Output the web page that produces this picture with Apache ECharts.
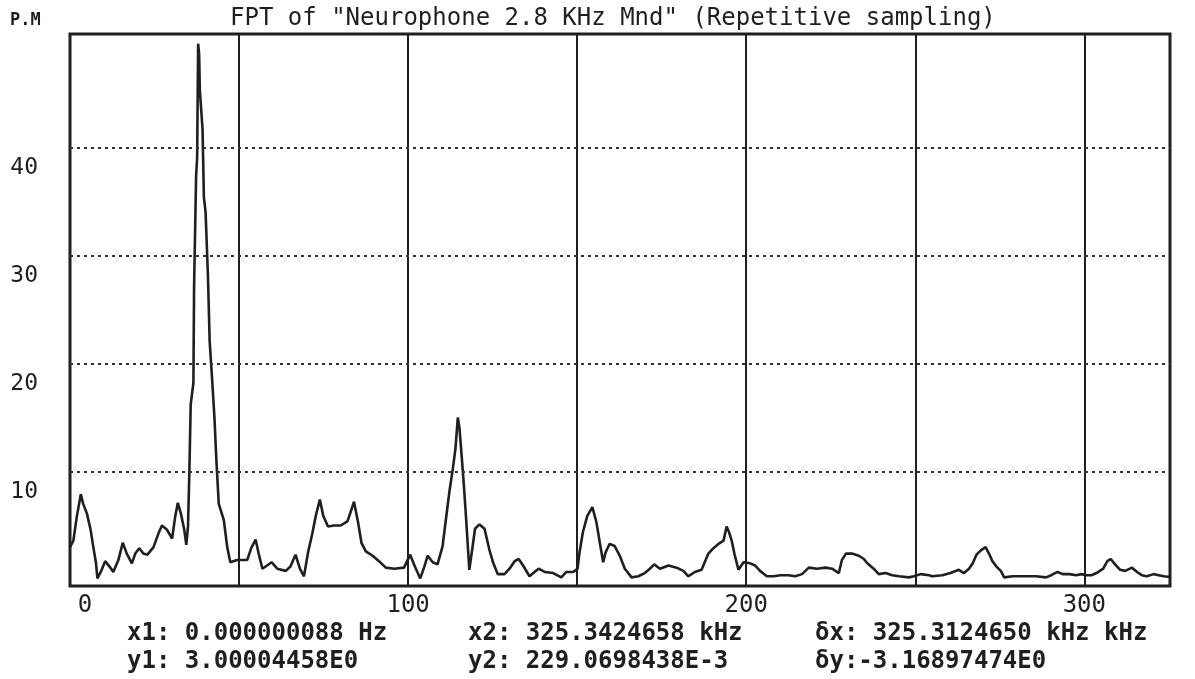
<!DOCTYPE html>
<html>
<head>
<meta charset="utf-8">
<title>FPT of "Neurophone 2.8 KHz Mnd"</title>
<script src="https://cdn.jsdelivr.net/npm/echarts@6/dist/echarts.min.js"></script>
<style>
  html, body { margin: 0; padding: 0; background: #fff; }
  #chart { width: 1195px; height: 679px; }
</style>
</head>
<body>
<div id="chart"></div>
<script>
// spectrum trace (kHz, P.M)
const freqKHz = [
  0.0, 1.0, 2.0, 3.2, 3.9, 5.0, 6.1, 6.9, 7.7, 8.1, 9.1, 10.4, 11.7, 12.8, 14.3, 15.6, 16.8, 18.3, 19.3, 20.5,
  21.7, 22.9, 24.7, 26.2, 27.2, 28.7, 30.2, 31.1, 31.9, 32.8, 33.8, 34.4,
  34.9, 35.3, 35.7, 36.5, 36.7, 37.3, 37.6, 37.9, 38.2, 38.4, 39.2, 39.6, 40.1, 40.8, 41.3, 42.1, 42.7, 43.3,
  44.0, 45.5, 46.5, 47.4, 49.4, 50.9, 52.4, 53.6, 54.9, 55.8, 56.9, 58.3, 59.6,
  61.3, 63.8, 65.2, 66.7, 68.0, 69.2, 70.4, 71.7, 72.7, 73.9, 74.9, 76.3, 78.1, 80.1, 82.1, 84.0, 85.2, 86.2,
  87.5, 89.5, 91.4, 93.4, 95.9, 98.8, 100.6, 102.0, 103.6, 104.8, 105.8, 107.3, 108.7, 110.2, 111.2, 112.2,
  113.2, 114.0, 114.7, 115.2, 115.9, 116.5, 117.1, 117.6, 118.1, 119.1, 119.8, 121.1, 122.6, 124.0,
  125.1, 126.5, 128.5, 130.0, 131.5, 132.7, 134.0, 135.9, 137.4, 138.6, 140.4, 142.9, 145.3, 146.8, 148.8,
  150.1, 150.7, 151.7, 153.0, 154.5, 155.7, 156.7, 157.7, 158.4, 159.6, 161.1, 162.6, 164.1, 166.1, 168.1,
  170.0, 171.5, 172.8, 174.5, 177.0, 179.4, 181.4, 182.9, 184.8, 186.8,
  188.8, 190.3, 191.8, 193.3, 194.2, 194.9, 195.7, 196.5, 197.7, 199.2, 201.2, 202.6, 204.1, 206.1, 208.1,
  210.1, 212.5, 214.5, 216.5, 218.5, 220.9, 223.4, 225.4, 227.4, 228.3, 229.5, 231.3, 233.3, 234.8, 235.8,
  237.7, 239.2, 241.2, 243.2, 245.2, 248.1, 249.6, 251.6, 254.1,
  255.0, 258.0, 260.4, 262.9, 264.4, 265.9, 267.0, 268.1, 269.4, 270.8, 271.8, 272.8, 274.0, 275.3, 276.3,
  278.8, 281.7, 285.7, 288.7, 290.2, 292.1, 293.6, 295.6, 297.6, 299.1, 300.6, 302.1, 303.6, 305.6, 306.8,
  307.8, 309.1, 310.6, 312.1, 314.1, 315.6, 317.0, 318.5, 320.5, 322.0, 323.5, 325.3
]
const amplitude = [
  3.0, 3.6, 5.8, 7.9, 7.0, 6.1, 4.6, 3.0, 1.5, 0.1, 0.7, 1.7, 1.2, 0.7, 1.8, 3.4, 2.4, 1.5, 2.4, 2.9,
  2.4, 2.3, 3.0, 4.3, 5.0, 4.6, 3.8, 5.8, 7.1, 6.1, 4.6, 3.2,
  4.9, 9.9, 16.2, 18.2, 27.1, 37.4, 39.0, 49.6, 48.6, 45.3, 41.7, 35.4, 34.0, 28.1, 22.1, 18.2, 15.1, 11.0,
  7.0, 5.5, 3.0, 1.6, 1.8, 1.8, 1.8, 2.9, 3.7, 2.4, 1.0, 1.3, 1.6,
  1.0, 0.8, 1.2, 2.3, 1.0, 0.3, 2.5, 4.3, 5.9, 7.4, 5.9, 4.9, 5.0, 5.0, 5.4, 7.2, 5.3, 3.4,
  2.6, 2.2, 1.7, 1.1, 1.0, 1.1, 2.3, 1.2, 0.1, 1.2, 2.2, 1.6, 1.4, 3.1, 5.6, 8.1,
  10.2, 12.1, 15.0, 14.0, 11.2, 8.7, 5.9, 3.4, 0.9, 3.1, 4.7, 5.1, 4.7, 2.8,
  1.6, 0.5, 0.5, 1.0, 1.7, 1.9, 1.3, 0.3, 0.7, 1.0, 0.7, 0.6, 0.2, 0.7, 0.7,
  1.0, 2.5, 4.4, 5.9, 6.7, 5.3, 3.4, 1.6, 2.5, 3.3, 3.1, 2.2, 1.0, 0.2, 0.3,
  0.6, 1.0, 1.4, 1.0, 1.3, 1.1, 0.8, 0.3, 0.7, 0.9,
  2.4, 2.9, 3.3, 3.6, 4.9, 4.4, 3.6, 2.4, 0.9, 1.6, 1.5, 1.3, 0.8, 0.3, 0.3,
  0.4, 0.4, 0.3, 0.5, 1.1, 1.0, 1.1, 1.0, 0.6, 1.8, 2.4, 2.4, 2.2, 1.9, 1.5,
  1.0, 0.5, 0.6, 0.4, 0.3, 0.2, 0.3, 0.5, 0.4,
  0.3, 0.4, 0.6, 0.9, 0.6, 1.0, 1.5, 2.3, 2.7, 3.0, 2.4, 1.7, 1.2, 0.8, 0.2,
  0.3, 0.3, 0.3, 0.2, 0.4, 0.7, 0.5, 0.5, 0.4, 0.5, 0.4, 0.4, 0.6, 1.0, 1.7,
  1.9, 1.4, 0.9, 0.8, 1.1, 0.7, 0.4, 0.3, 0.5, 0.4, 0.3, 0.23
]

const xLabelValues = [0, 100, 200, 300]
const yGridValues = [10, 20, 30, 40]

const titleText = 'FPT of "Neurophone 2.8 KHz Mnd" (Repetitive sampling)'
const yUnit = 'P.M'
const readout1 = ['x1: 0.000000088 Hz', 'y1: 3.00004458E0']
const readout2 = ['x2: 325.3424658 kHz', 'y2: 229.0698438E-3']
const readout3 = ['\u03b4x: 325.3124650 kHz kHz', '\u03b4y:-3.16897474E0']

const ink = '#1f1f1f'
const mono = '"DejaVu Sans Mono", "Liberation Mono", monospace'

const chart = echarts.init(document.getElementById('chart'))

const readoutStyle = {
  fontFamily: mono,
  fontSize: 24,
  lineHeight: 28,
  fontWeight: 'bold',
  color: ink
}

const option = {
  animation: false,
  backgroundColor: '#fff',
  title: [
    {
      text: titleText,
      left: 225,
      top: 2,
      textStyle: { fontFamily: mono, fontSize: 24, fontWeight: 'normal', color: ink }
    },
    {
      text: yUnit,
      left: 5,
      top: 7,
      textStyle: { fontFamily: mono, fontSize: 17, fontWeight: 'bold', color: ink }
    },
    { text: readout1.join('\n'), left: 122, top: 615, textStyle: readoutStyle },
    { text: readout2.join('\n'), left: 463, top: 615, textStyle: readoutStyle },
    { text: readout3.join('\n'), left: 810, top: 615, textStyle: readoutStyle }
  ],
  grid: {
    left: 70,
    right: 25,
    top: 34,
    bottom: 93,
    show: true,
    borderColor: ink,
    borderWidth: 3,
    outerBoundsMode: 'none'
  },
  xAxis: {
    type: 'value',
    min: 0,
    max: 325.34,
    interval: 50,
    axisLine: { show: false },
    axisTick: { show: false },
    splitLine: { show: true, lineStyle: { color: ink, width: 2 } },
    axisLabel: {
      margin: 8,
      fontFamily: mono,
      fontSize: 24,
      color: ink,
      showMaxLabel: false,
      formatter: function (v) {
        if (xLabelValues.indexOf(v) < 0) return ''
        return v === 0 ? '{z|0}' : String(v)
      },
      rich: {
        z: { fontFamily: mono, fontSize: 24, color: ink, padding: [0, 0, 0, 30] }
      }
    }
  },
  yAxis: {
    type: 'value',
    min: -0.6,
    max: 50.5,
    axisLine: { show: false },
    axisTick: { show: false },
    splitLine: { show: false },
    axisLabel: {
      customValues: yGridValues,
      margin: 32,
      fontFamily: mono,
      fontSize: 23,
      color: ink,
      verticalAlign: 'top',
      padding: [9, 0, 0, 0]
    }
  },
  series: [
    {
      name: 'FPT',
      type: 'line',
      data: freqKHz.map((f, i) => [f, amplitude[i]]),
      symbol: 'none',
      lineStyle: { color: ink, width: 2.6 },
      markLine: {
        silent: true,
        symbol: 'none',
        label: { show: false },
        lineStyle: { color: '#333', width: 2, type: [3, 4] },
        data: yGridValues.map(v => ({ yAxis: v }))
      }
    }
  ]
}

chart.setOption(option)
window.addEventListener('resize', () => chart.resize())
</script>
</body>
</html>
